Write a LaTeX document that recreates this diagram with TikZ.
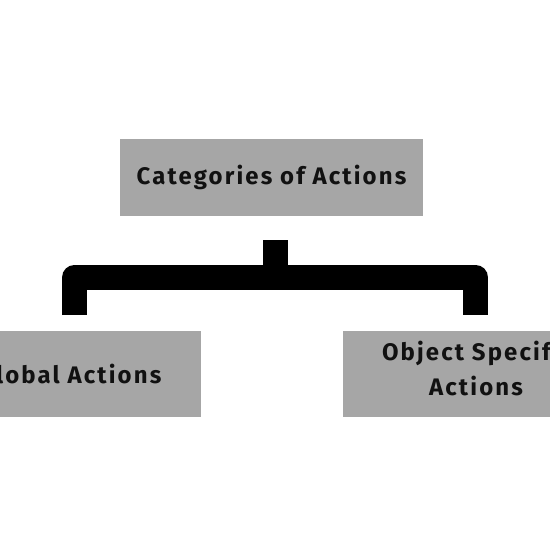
\documentclass[tikz,border=0pt]{standalone}
\usepackage{fontspec}
\setmainfont{Fira Sans}[LetterSpace=9]
\usepackage{tikz}
\usetikzlibrary{calc}

\definecolor{boxgray}{RGB}{166,166,166}
\definecolor{inkblack}{RGB}{17,17,17}

\begin{document}
\begin{tikzpicture}[x=1bp,y=-1bp,
  every node/.style={font=\fontsize{24}{35}\selectfont\bfseries,text=inkblack,align=center},
  catbox/.style={fill=boxgray,inner sep=0pt},
  bracket/.style={line width=25bp,line join=round,line cap=butt}]
\useasboundingbox (0,0) rectangle (550,550);
\clip (0,0) rectangle (550,550);
\node[catbox,minimum width=303bp,minimum height=77bp] (cat) at (271.5,177.5) {Categories of Actions};
\node[catbox,minimum width=262bp,minimum height=86.5bp] (glob) at (70,374) {Global Actions};
\node[catbox,minimum width=265.4bp,minimum height=86.5bp,text depth=12bp] (obj) at (476,374) {Object Specific\\Actions};
% bracket from the top box down to both boxes
\coordinate (stub) at ($(cat.south)+(3.7,24)$);
\coordinate (bar) at ($(stub)+(0,37)$);
\coordinate (lleg) at (74.7,315);
\coordinate (rleg) at (475.5,315);
\draw[bracket] (stub) -- (bar);
\draw[bracket] (lleg) |- (bar) -| (rleg);
\end{tikzpicture}
\end{document}
